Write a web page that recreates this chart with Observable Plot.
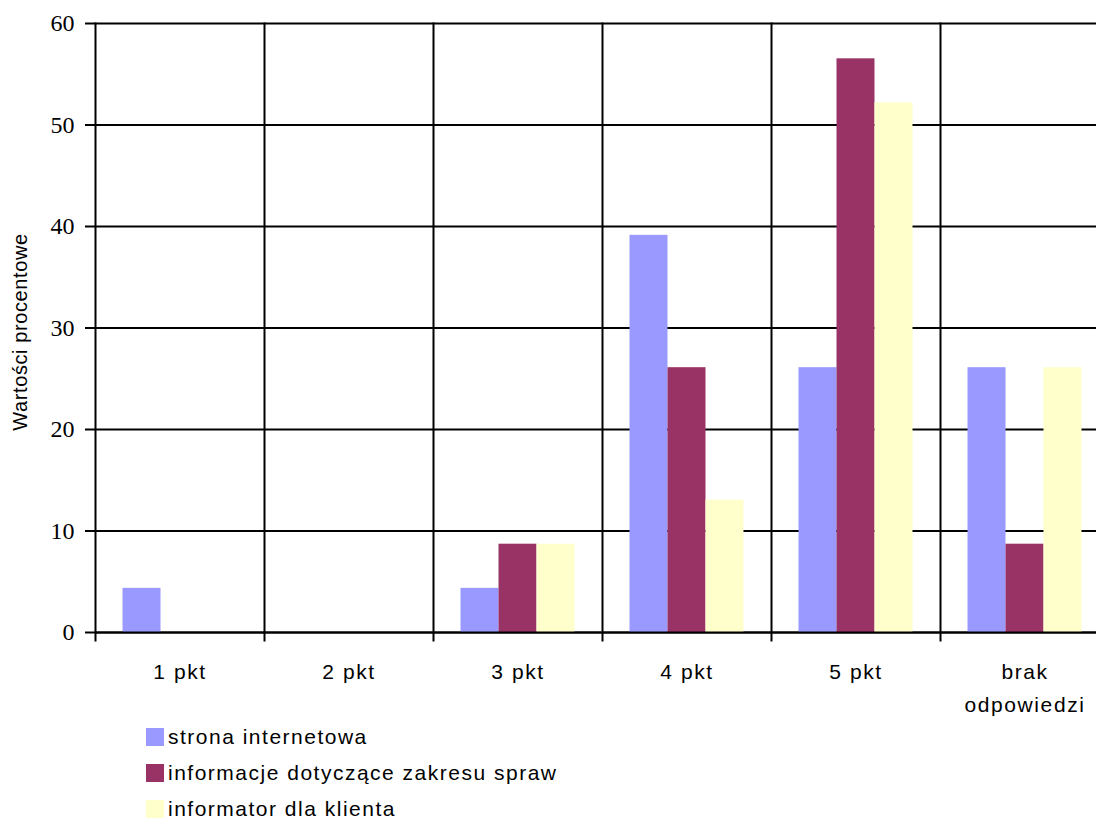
<!DOCTYPE html>
<html>
<head>
<meta charset="utf-8">
<script src="https://cdn.jsdelivr.net/npm/d3@7"></script>
<script src="https://cdn.jsdelivr.net/npm/@observablehq/plot@0.6"></script>
<style>
  html, body { margin: 0; padding: 0; background: #fff; overflow: hidden; width: 1096px; height: 822px; }
  #chart { position: absolute; left: 0; top: 0; }
  #chart svg { max-width: none !important; background: #fff; }
  g[aria-label="fx-axis tick label"] { font-size: 21px !important; font-family: "Liberation Sans", Arial, sans-serif !important; }
  g[aria-label="fx-axis tick label"] text { letter-spacing: 1.6px; }
  g[aria-label="y-axis tick label"] { font-size: 24px !important; font-family: "Liberation Serif", "Times New Roman", serif !important; }
  .ytitle { position: absolute; left: 20px; top: 332px; transform: translate(-50%, -50%) rotate(-90deg);
    font: 20px "Liberation Sans", Arial, sans-serif; letter-spacing: 0.6px; white-space: nowrap; color: #000; }
  .leg { position: absolute; left: 146px; height: 20px; display: flex; align-items: center;
    font: 21px/20px "Liberation Sans", Arial, sans-serif; letter-spacing: 1.5px; color: #000; white-space: nowrap; }
  .leg .sw { width: 18px; height: 18px; margin-right: 4px; }
</style>
</head>
<body>
<div id="chart"></div>
<div class="ytitle">Wartości procentowe</div>
<div id="legend"></div>
<script>
const categories = ["1 pkt", "2 pkt", "3 pkt", "4 pkt", "5 pkt", "brak\nodpowiedzi"];
const seriesNames = ["strona internetowa", "informacje dotyczące zakresu spraw", "informator dla klienta"];
const stronaInternetowa = [4.35, 0, 4.35, 39.13, 26.09, 26.09];
const informacjeZakres = [0, 0, 8.70, 26.09, 56.52, 8.70];
const informatorKlienta = [0, 0, 8.70, 13.04, 52.17, 26.09];
const seriesColors = ["#9999FF", "#993366", "#FFFFCC"];
const yTicks = [0, 10, 20, 30, 40, 50, 60];

const seriesValues = [stronaInternetowa, informacjeZakres, informatorKlienta];
const data = categories.flatMap((cat, i) =>
  seriesNames.map((s, j) => ({cat, series: s, value: seriesValues[j][i]}))
);

const chart = Plot.plot({
  width: 1110,
  height: 700,
  marginLeft: 95,
  marginRight: 1,
  marginTop: 23,
  marginBottom: 68,
  style: {background: "#fff", overflow: "visible"},
  fx: {domain: categories, padding: 0, label: null, axis: null, round: false},
  x: {domain: seriesNames, paddingInner: 0, paddingOuter: 0.724, axis: null, round: false},
  y: {domain: [0, 60], axis: null},
  color: {domain: seriesNames, range: seriesColors},
  marks: [
    Plot.ruleY(yTicks, {stroke: "#000", strokeWidth: 2}),
    Plot.frame({anchor: "left", insetBottom: -8, stroke: "#000", strokeWidth: 2}),
    Plot.barY(data, {fx: "cat", x: "series", y: "value", fill: "series"}),
    Plot.ruleY([0], {stroke: "#000", strokeWidth: 2}),
    Plot.axisY(yTicks, {
      anchor: "left", tickSize: 10, tickPadding: 11, strokeWidth: 2,
      fontSize: 24, fontFamily: "Liberation Serif, Times New Roman, serif",
      label: null, color: "#000"
    }),
    Plot.axisFx({
      anchor: "bottom", tickSize: 0, tickPadding: 23, fontSize: 21, lineHeight: 1.58,
      fontFamily: "Liberation Sans, Arial, sans-serif", label: null, color: "#000"
    })
  ]
});
document.getElementById("chart").appendChild(chart);

const legend = document.getElementById("legend");
const legendTops = [727, 763, 799];
seriesNames.forEach((s, i) => {
  const row = document.createElement("div");
  row.className = "leg";
  row.style.top = (legendTops[i]) + "px";
  const sw = document.createElement("span");
  sw.className = "sw";
  sw.style.background = seriesColors[i];
  const t = document.createElement("span");
  t.textContent = s;
  row.appendChild(sw);
  row.appendChild(t);
  legend.appendChild(row);
});
</script>
</body>
</html>
